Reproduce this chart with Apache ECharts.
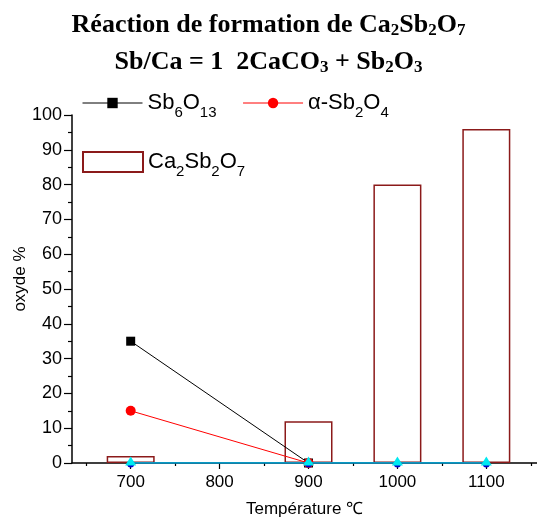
<!DOCTYPE html>
<html><head><meta charset="utf-8">
<script src="https://cdn.jsdelivr.net/npm/echarts@6/dist/echarts.min.js"></script>
<style>html,body{margin:0;padding:0;background:#fff}#c{width:537px;height:519px}</style>
</head><body><div id="c"></div>
<script>
const temperatures = [700, 900, 1000, 1100];
const ca2sb2o7 = [2, 12, 80, 96];
const sb6o13Temps = [700, 900];
const sb6o13 = [35, 0];
const alphaSb2o4Temps = [700, 900];
const alphaSb2o4 = [15, 0];
const zeroBlue = [0, 0, 0, 0];
const zeroCyan = [0, 0, 0, 0];
const xTickLabels = [700, 800, 900, 1000, 1100];
const xMinorTicks = [650, 750, 850, 950, 1050, 1150];

const pair = (xs, ys) => xs.map((x, i) => [x, ys[i]]);
const chart = echarts.init(document.getElementById('c'));
const SANS = 'Liberation Sans, Arial';
const SERIF = 'Liberation Serif, Times New Roman';
const richLegend = {
  n: {fontSize: 22, fontFamily: SANS, color: '#000', lineHeight: 34},
  s: {fontSize: 15, fontFamily: SANS, color: '#000', verticalAlign: 'bottom', lineHeight: 34}
};
const legendFmt = {
  'Sb6O13': '{n|Sb}{s|6}{n|O}{s|13}',
  'α-Sb2O4': '{n|α-Sb}{s|2}{n|O}{s|4}',
  'Ca2Sb2O7': '{n|Ca}{s|2}{n|Sb}{s|2}{n|O}{s|7}'
};
const titleRich = {
  t: {fontSize: 26, fontWeight: 'bold', fontFamily: SERIF, color: '#000', lineHeight: 30},
  s: {fontSize: 17, fontWeight: 'bold', fontFamily: SERIF, color: '#000', lineHeight: 30, padding: [12, 0, 0, 0]}
};
chart.setOption({
  animation: false,
  title: [
    {text: '{t|Réaction de formation de Ca}{s|2}{t|Sb}{s|2}{t|O}{s|7}', left: 'center', top: 10, padding: 0, textStyle: {rich: titleRich}},
    {text: '{t|Sb/Ca = 1  2CaCO}{s|3}{t| + Sb}{s|2}{t|O}{s|3}', left: 'center', top: 47, padding: 0, textStyle: {rich: titleRich}}
  ],
  legend: [
    {data: ['Sb6O13', 'α-Sb2O4'], left: 82, top: 92, padding: 0, itemWidth: 60, itemHeight: 13, itemGap: 26,
     lineStyle: {width: 1}, formatter: n => legendFmt[n], textStyle: {rich: richLegend}},
    {data: [{name: 'Ca2Sb2O7', icon: 'rect'}], left: 82, top: 151, padding: 0, itemWidth: 60, itemHeight: 20,
     formatter: n => legendFmt[n], textStyle: {rich: richLegend}}
  ],
  grid: {left: 72, right: 0, top: 115, bottom: 56, outerBoundsMode: 'none'},
  xAxis: [
    {type: 'value', min: 634, max: 1157, name: 'Température ℃', nameLocation: 'middle', nameGap: 38,
     nameMoveOverlap: false,
     nameTextStyle: {fontSize: 17, fontFamily: SANS, color: '#000'},
     axisLine: {lineStyle: {color: '#000', width: 1.5}},
     axisTick: {show: true, inside: false, length: 6, customValues: xTickLabels, lineStyle: {color: '#000', width: 1.2}},
     axisLabel: {customValues: xTickLabels, formatter: v => String(v), fontSize: 17, fontFamily: SANS, color: '#000', margin: 11},
     splitLine: {show: false}},
    {type: 'value', min: 634, max: 1157, position: 'bottom',
     axisLine: {show: false},
     axisTick: {show: true, length: 3, customValues: xMinorTicks, lineStyle: {color: '#000', width: 1.2}},
     axisLabel: {show: false}, splitLine: {show: false}}
  ],
  yAxis: {type: 'value', min: 0, max: 100, interval: 10, name: 'oxyde %', nameLocation: 'middle', nameGap: 43,
    nameMoveOverlap: false,
    nameTextStyle: {fontSize: 17, fontFamily: SANS, color: '#000', padding: [0, 0, 0, 20]},
    axisLine: {show: true, lineStyle: {color: '#000', width: 1.5}},
    axisTick: {show: true, length: 8, lineStyle: {color: '#000', width: 1.2}},
    minorTick: {show: true, splitNumber: 2, length: 4, lineStyle: {color: '#000', width: 1.2}},
    axisLabel: {fontSize: 18, fontFamily: SANS, color: '#000', margin: 10},
    splitLine: {show: false}},
  series: [
    {name: 'Ca2Sb2O7', type: 'bar', barWidth: 48, data: pair(temperatures, ca2sb2o7),
     itemStyle: {color: 'rgba(0,0,0,0)', borderColor: '#8b1a1a', borderWidth: 1.5}, z: 1},
    {name: 'Sb6O13', type: 'line', data: pair(sb6o13Temps, sb6o13), symbol: 'rect', symbolSize: 9,
     lineStyle: {color: '#000', width: 1}, itemStyle: {color: '#000'}, z: 3},
    {name: 'α-Sb2O4', type: 'line', data: pair(alphaSb2o4Temps, alphaSb2o4), symbol: 'circle', symbolSize: 10,
     lineStyle: {color: '#ff0000', width: 1}, itemStyle: {color: '#ff0000'}, z: 3},
    {name: 'zeroBlue', type: 'line', data: pair(temperatures, zeroBlue), symbol: 'circle', symbolSize: 7,
     symbolOffset: [0, 1], lineStyle: {color: '#0000cc', width: 1}, itemStyle: {color: '#0000cc'}, z: 4},
    {name: 'zeroCyan', type: 'line', data: pair(temperatures, zeroCyan), symbol: 'triangle', symbolSize: [11, 9],
     symbolOffset: [0, -2], lineStyle: {color: '#00c0d8', width: 1.5}, itemStyle: {color: '#00e8f0'}, z: 5}
  ]
});
</script></body></html>
